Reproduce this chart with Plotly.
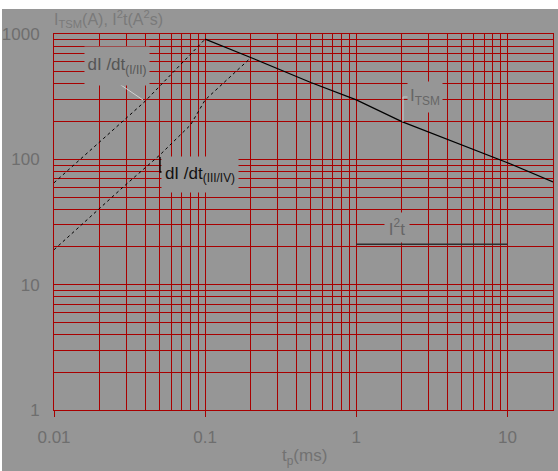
import plotly.graph_objects as go

# ---- data ----
t_itsm = [0.1, 0.2, 0.5, 1, 2, 5, 10, 20]
i_tsm = [910, 650, 410, 298, 200, 130, 94, 66]

t_didt12 = [0.01, 0.04, 0.1]
didt12 = [65, 290, 910]

t_didt34 = [0.01, 0.0295, 0.05, 0.08, 0.1, 0.2]
didt34 = [19, 62, 108, 188, 298, 645]

t_i2t = [1, 10]
i2t = [21, 21]

x_major = [0.01, 0.1, 1, 10]
x_major_text = ["0.01", "0.1", "1", "10"]
x_grid = [m * 10 ** e for e in (-2, -1, 0) for m in range(1, 10)] + [10, 20]
y_major = [1, 10, 100, 1000]
y_major_text = ["1", "10", "100", "1000"]
y_grid = [m * 10 ** e for e in (0, 1, 2) for m in range(1, 10)] + [1000]

# ---- styling ----
W, H = 558, 471
L, R, T, B = 54, 5, 34, 61
BG = "#969696"
GRID = "#a80000"
TXT = "#6e6e6e"
FONT = "Liberation Sans, Arial, sans-serif"


def px(x):
    return (x - L) / (W - L - R)


def py(y):
    return (H - B - y) / (H - T - B)


def grid_text(vals, majors, texts):
    lut = {round(v, 6): t for v, t in zip(majors, texts)}
    return [lut.get(round(v, 6), "") for v in vals]


fig = go.Figure()
fig.add_trace(go.Scatter(x=t_didt12, y=didt12, mode="lines",
                         line=dict(color="black", width=1, dash="dot")))
fig.add_trace(go.Scatter(x=t_didt34, y=didt34, mode="lines",
                         line=dict(color="black", width=1, dash="dot")))
fig.add_trace(go.Scatter(x=t_itsm, y=i_tsm, mode="lines",
                         line=dict(color="black", width=1.2)))
fig.add_trace(go.Scatter(x=t_i2t, y=i2t, mode="lines",
                         line=dict(color="#2e2e2e", width=1.5)))
# carrier for the decade tick marks on the overlaid x axis
fig.add_trace(go.Scatter(x=[], y=[], xaxis="x2", mode="lines", hoverinfo="skip"))

tickfont = dict(family=FONT, size=17, color=TXT)

fig.update_layout(
    xaxis=dict(type="log", range=[-2, 1.30103], tickmode="array",
               tickvals=x_grid, ticktext=grid_text(x_grid, x_major, x_major_text),
               ticks="", showgrid=True, gridcolor=GRID, gridwidth=1,
               showline=True, linecolor=GRID, mirror=True, zeroline=False,
               automargin=False, tickfont=tickfont, ticklabelstandoff=12),
    xaxis2=dict(type="log", range=[-2, 1.30103], overlaying="x", anchor="y",
                side="bottom", tickmode="array", tickvals=x_major,
                showticklabels=False, ticks="outside", ticklen=6,
                tickcolor=GRID, showgrid=False, showline=False,
                zeroline=False, automargin=False),
    yaxis=dict(type="log", range=[0, 3], tickmode="array",
               tickvals=y_grid, ticktext=grid_text(y_grid, y_major, y_major_text),
               ticks="inside", ticklen=4, tickcolor=GRID,
               showgrid=True, gridcolor=GRID, gridwidth=1,
               showline=True, linecolor=GRID, mirror=True, zeroline=False,
               automargin=False, tickfont=tickfont, ticklabelstandoff=10),
)

shapes = [
    # gray page area (the very top/left strip stays white)
    dict(type="rect", xref="paper", yref="paper", layer="below",
         x0=px(2), x1=px(W + 2), y0=py(H + 2), y1=py(9),
         fillcolor=BG, line=dict(width=0)),
    # leader lines
    dict(type="line", xref="paper", yref="paper", layer="above",
         x0=px(118), y0=py(83), x1=px(143), y1=py(100),
         line=dict(color="#d2d2d2", width=1)),
    dict(type="path", xref="paper", yref="paper", layer="above",
         path=f"M {px(160)},{py(157)} L {px(160)},{py(172)} L {px(165)},{py(172)}",
         line=dict(color="black", width=1.3)),
    dict(type="path", xref="paper", yref="paper", layer="above",
         path=f"M {px(408)},{py(97)} L {px(403)},{py(97)} L {px(403)},{py(122)}",
         line=dict(color="#c4c4c4", width=1)),
]

annotations = [
    dict(text="dI /dt<sub>(I/II)</sub>", x=px(117), y=py(66), width=64, height=38,
         font=dict(family=FONT, size=17, color="#555555"), bgcolor=BG),
    dict(text="dI /dt<sub>(III/IV)</sub>", x=px(200), y=py(174), width=76, height=35,
         font=dict(family=FONT, size=17, color="#111111"), bgcolor=BG),
    dict(text="I<sub>TSM</sub>", x=px(425), y=py(97), width=34, height=30,
         font=dict(family=FONT, size=17, color="#666666"), bgcolor=BG),
    dict(text="I<sup>2</sup>t", x=px(397), y=py(227), width=24, height=29,
         font=dict(family=FONT, size=17, color="#666666"), bgcolor=BG),
    dict(text="I<sub>TSM</sub>(A), I<sup>2</sup>t(A<sup>2</sup>s)", x=px(53), y=py(19),
         xanchor="left", font=dict(family=FONT, size=16, color="#7a7a7a")),
    dict(text="t<sub>p</sub>(ms)", x=px(304), y=py(457),
         font=dict(family=FONT, size=17, color="#727272")),
]
for a in annotations:
    a.setdefault("xref", "paper")
    a.setdefault("yref", "paper")
    a.setdefault("showarrow", False)
    a.setdefault("borderpad", 0)
    a.setdefault("xanchor", "center")
    a.setdefault("yanchor", "middle")

fig.update_layout(width=W, height=H, autosize=False,
                  margin=dict(l=L, r=R, t=T, b=B, pad=0),
                  paper_bgcolor="white", plot_bgcolor="rgba(0,0,0,0)",
                  showlegend=False, shapes=shapes, annotations=annotations)

fig.write_html("out.html",
               config={"displayModeBar": False},
               post_script="document.body.style.margin='0';"
                           "document.body.style.overflow='hidden';")
